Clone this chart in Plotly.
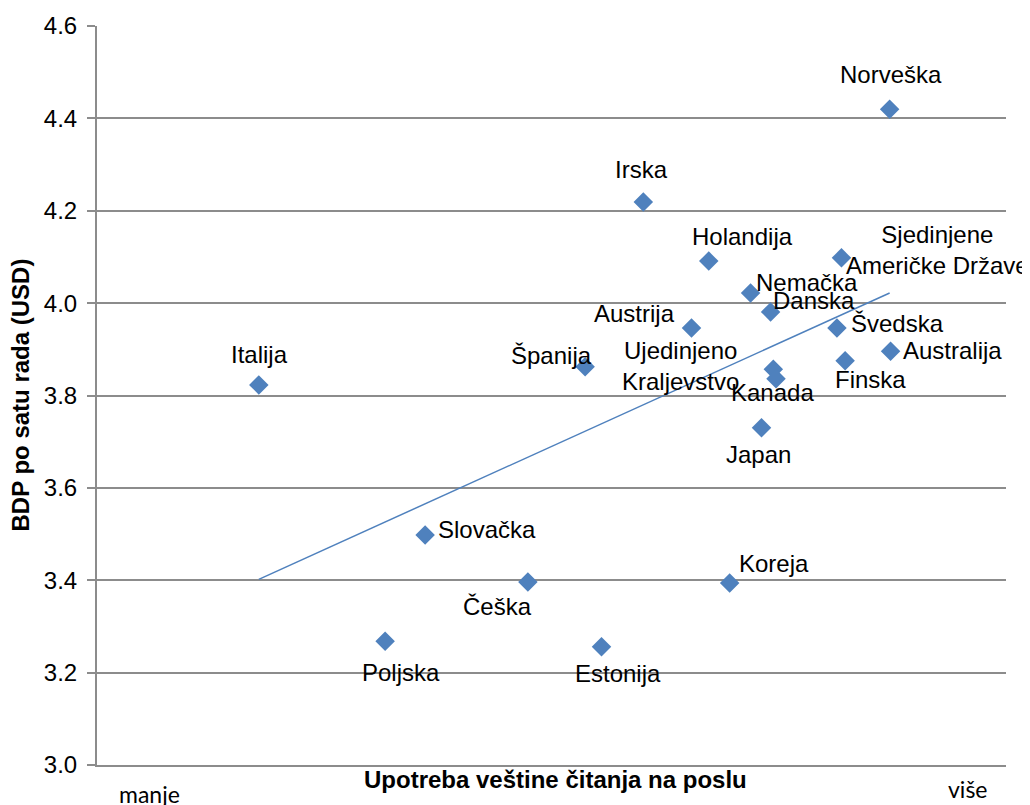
import plotly.graph_objects as go

# Data (x: relative reading-skill use index; y: GDP per hour worked)
countries = ["Italija", "Poljska", "Slovačka", "Češka", "Španija", "Estonija", "Irska",
             "Austrija", "Holandija", "Koreja", "Nemačka", "Japan", "Danska",
             "Ujedinjeno<br>Kraljevstvo", "Kanada", "Švedska", "Sjedinjene<br>Američke Države",
             "Finska", "Australija", "Norveška"]
x_vals = [17.8, 31.7, 36.1, 47.4, 53.7, 55.5, 60.1, 65.4, 67.3, 69.6, 71.9, 73.1, 74.1,
          74.4, 74.7, 81.4, 81.9, 82.3, 87.3, 87.2]
y_vals = [3.823, 3.268, 3.498, 3.396, 3.862, 3.256, 4.219, 3.946, 4.091, 3.394, 4.022,
          3.730, 3.981, 3.857, 3.836, 3.946, 4.098, 3.875, 3.896, 4.420]
trend_x = [17.8, 87.2]
trend_y = [3.402, 4.022]
y_ticks = [3.0, 3.2, 3.4, 3.6, 3.8, 4.0, 4.2, 4.4, 4.6]

# label offsets in pixels (dx, dy; dy positive = up)
label_offsets = [(1, 30), (16, -31), (62, 5), (-30, -24), (-34, 11), (16, -27), (-2, 32),
                 (-57, 15), (34, 25), (44, 20), (56, 10), (-3, -27), (43, 11),
                 (-93, 3), (-4, -14), (61, 5), (96, 8), (25, -19), (62, 1), (1, 35)]

BLUE = "#4F81BD"
GRID = "#8C8C8C"
FONT = "Liberation Sans, Arial, sans-serif"
SIDE_FONT = "Lato, Open Sans, sans-serif"

fig = go.Figure()
fig.add_trace(go.Scatter(x=trend_x, y=trend_y, mode="lines",
                         line=dict(color=BLUE, width=1.5), hoverinfo="skip"))
fig.add_trace(go.Scatter(x=x_vals, y=y_vals, mode="markers",
                         marker=dict(symbol="diamond", size=15, color=BLUE),
                         text=countries, hoverinfo="text"))

for name, xv, yv, (dx, dy) in zip(countries, x_vals, y_vals, label_offsets):
    fig.add_annotation(x=xv, y=yv, text=name, showarrow=False, xshift=dx, yshift=dy,
                       font=dict(family=FONT, size=24, color="black"),
                       xanchor="center", yanchor="middle", align="center")

# axis titles and end labels
fig.add_annotation(x=0.504, y=0, xref="paper", yref="paper", yshift=-14,
                   text="<b>Upotreba veštine čitanja na poslu</b>", showarrow=False,
                   xanchor="center", yanchor="middle",
                   font=dict(family=FONT, size=24, color="black"))
fig.add_annotation(x=0, y=0.5, xref="paper", yref="paper", xshift=-77,
                   text="<b>BDP po satu rada (USD)</b>", showarrow=False, textangle=-90,
                   xanchor="center", yanchor="middle",
                   font=dict(family=FONT, size=24, color="black"))
fig.add_annotation(x=0.058, y=0, xref="paper", yref="paper", yshift=-29, text="manje",
                   showarrow=False, xanchor="center", yanchor="middle",
                   font=dict(family=SIDE_FONT, size=23, color="black"))
fig.add_annotation(x=0.958, y=0, xref="paper", yref="paper", yshift=-24, text="više",
                   showarrow=False, xanchor="center", yanchor="middle",
                   font=dict(family=SIDE_FONT, size=23, color="black"))

fig.update_layout(
    width=1022, height=797,
    margin=dict(l=89, r=24, t=18, b=40),
    paper_bgcolor="white", plot_bgcolor="white",
    showlegend=False,
    font=dict(family=FONT, color="black"),
    xaxis=dict(range=[0, 100], showticklabels=False, showgrid=False, zeroline=False,
               ticks="", showline=True, linecolor=GRID, linewidth=2, automargin=False),
    yaxis=dict(range=[3.0, 4.6], tickvals=y_ticks, ticktext=[f"{v:.1f}" for v in y_ticks],
               showgrid=True, gridcolor=GRID, gridwidth=2, zeroline=False,
               showline=True, linecolor=GRID, linewidth=2, automargin=False,
               ticks="outside", ticklen=8, tickcolor=GRID, tickwidth=2,
               ticklabelstandoff=5,
               tickfont=dict(family=FONT, size=24, color="black")),
)

fig.write_html("out.html")
